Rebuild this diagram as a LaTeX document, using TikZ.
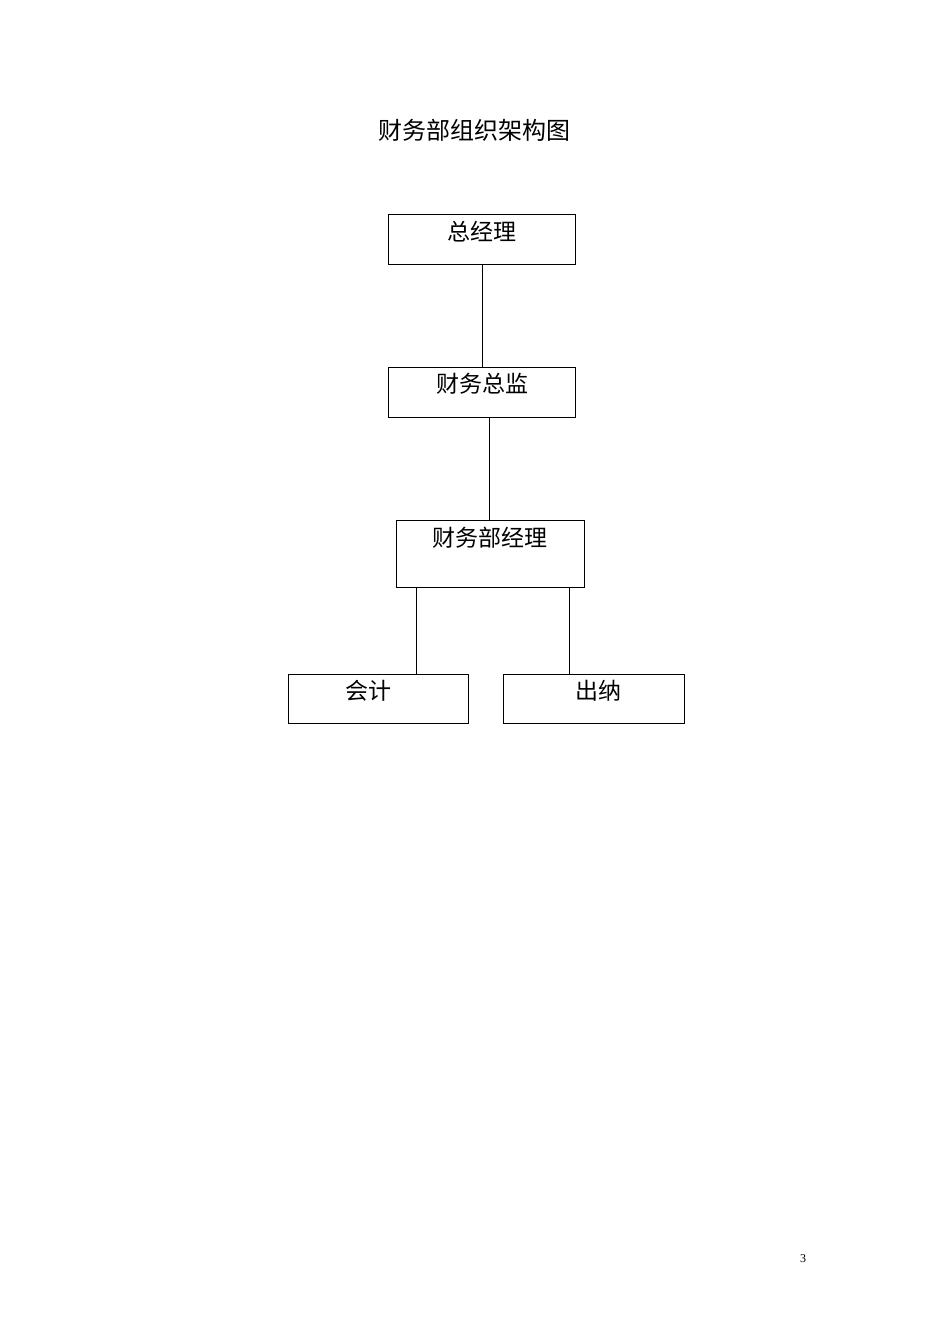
\documentclass[tikz,border=0pt]{standalone}
\usepackage{fontspec}
\newfontfamily\cjk{Noto Sans CJK SC}
\setmainfont{Liberation Serif}
\begin{document}
\begin{tikzpicture}[x=1pt,y=-1pt,
  box/.style={draw,line width=0.9pt,inner sep=0pt,anchor=north west},
  lbl/.style={font=\cjk\fontsize{23}{23}\selectfont,inner sep=0pt}]
\useasboundingbox[fill=white] (0,0) rectangle (950,1344);
\node[font=\cjk\fontsize{24}{24}\selectfont] (title) at (474,130) {财务部组织架构图};
\node[box,minimum width=187pt,minimum height=50pt] (a) at (388,214) {};
\node[box,minimum width=187pt,minimum height=50pt] (b) at (388,367) {};
\node[box,minimum width=188pt,minimum height=67pt] (c) at (396,520) {};
\node[box,minimum width=180pt,minimum height=49pt] (d) at (288,674) {};
\node[box,minimum width=181pt,minimum height=49pt] (e) at (503,674) {};
\node[lbl] (ta) at (482,232) {总经理};
\node[lbl] (tb) at (482,384) {财务总监};
\node[lbl] (tc) at (490,538) {财务部经理};
\node[lbl] (td) at (368,691) {会计};
\node[lbl] (te) at (598,691) {出纳};
\node[font=\fontsize{12}{12}\selectfont] (pg) at (803,1259) {3};
\draw[line width=0.9pt] (a.south) -- (a.south |- b.north);
\draw[line width=0.9pt] ([xshift=-1pt]c.north |- b.south) -- ([xshift=-1pt]c.north);
\draw[line width=0.9pt] ([xshift=-74pt]c.south) -- ([xshift=-74pt]c.south |- d.north);
\draw[line width=0.9pt] ([xshift=79pt]c.south) -- ([xshift=79pt]c.south |- e.north);
\end{tikzpicture}
\end{document}
